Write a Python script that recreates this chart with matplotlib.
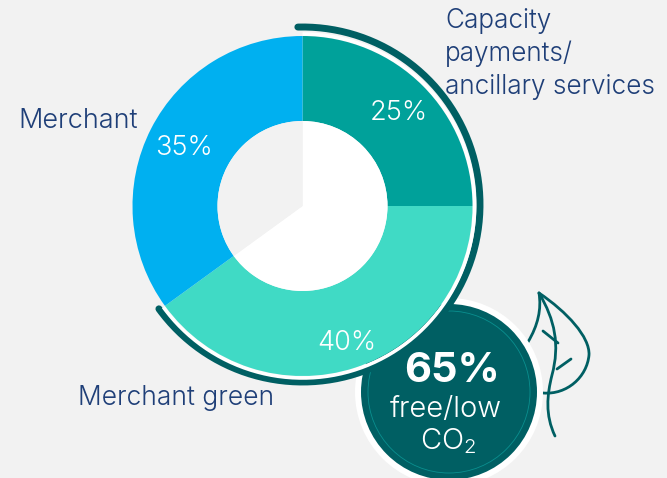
import numpy as np
import matplotlib
matplotlib.use('Agg')
import matplotlib.pyplot as plt
from matplotlib.patches import Circle, PathPatch
from matplotlib.path import Path

# Anteile am Portfolio
labels = ['Capacity\npayments/\nancillary services', 'Merchant green', 'Merchant']
shares = [25, 40, 35]
share_labels = ['25%', '40%', '35%']
low_co2_share = 65

W, H = 667, 478
BG = '#f2f2f2'
DARK = '#005f63'
NAVY = '#1f3f78'
colors = ['#00a19a', '#40dac5', '#00b0f0']

plt.rcParams['font.family'] = ['Inter', 'DejaVu Sans']
plt.rcParams['mathtext.default'] = 'regular'
LIGHT = 300


def py(y):
    # Pixel von oben -> Achse von unten
    return H - y


fig = plt.figure(figsize=(W / 100, H / 100), dpi=100, facecolor=BG)
ax = fig.add_axes([0, 0, 1, 1])

cx, cy = 302.5, py(206)
R, r = 170, 85

# Badge unten rechts
badge = (449, py(392))
ax.add_patch(Circle(badge, 94, fc='white', ec='none', zorder=3))
ax.add_patch(Circle(badge, 88, fc=DARK, ec='none', zorder=4))
ax.add_patch(Circle(badge, 81, fc='none', ec='#0a8f8f', lw=0.6, zorder=5))

# Ring
wedges, _ = ax.pie(shares, colors=colors, startangle=90, counterclock=False,
                   center=(cx, cy), radius=R, wedgeprops={'lw': 0})
for w in wedges:
    w.set_zorder(8)

# Innenloch: Merchant-Anteil bleibt Hintergrund
ax.add_patch(Circle((cx, cy), r, fc=BG, ec='none', zorder=8.5))
holes, _ = ax.pie(shares, colors=['white', 'white', BG], startangle=90, counterclock=False,
                  center=(cx, cy), radius=r, wedgeprops={'lw': 0})
for w in holes:
    w.set_zorder(9)

# Bogen um die CO2-armen Anteile
end_angle = 90 - low_co2_share / 100 * 360
theta = np.radians(np.linspace(90, end_angle, 200))
ax.plot(cx + (R + 2) * np.cos(theta), cy + (R + 2) * np.sin(theta), color='white', lw=2.6,
        solid_capstyle='butt', zorder=7)
theta2 = np.radians(np.linspace(91.5, end_angle, 200))
ax.plot(cx + 177.5 * np.cos(theta2), cy + 1.5 + 177.5 * np.sin(theta2), color=DARK, lw=5,
        solid_capstyle='round', zorder=6)


# Blatt
def leaf_line(verts, codes):
    pts = [(x, py(y)) for x, y in verts]
    ax.add_patch(PathPatch(Path(pts, codes), fc='none', ec=DARK, lw=2, capstyle='round',
                           joinstyle='round', zorder=2))


M, L, C3, C4 = Path.MOVETO, Path.LINETO, Path.CURVE3, Path.CURVE4
leaf_line([(539, 293), (567, 312), (590, 337), (589, 355), (587, 377), (567, 395), (543, 393)],
          [M, C4, C4, C4, C4, C4, C4])
leaf_line([(539, 293), (543, 317), (528, 342)], [M, C3, C3])
leaf_line([(539, 293), (555, 320), (560, 345), (552, 375), (547, 395), (545, 415), (555, 436)],
          [M, C4, C4, C4, C4, C4, C4])
leaf_line([(543, 331), (558, 343)], [M, L])
leaf_line([(571, 359), (557, 369)], [M, L])

# Beschriftung
ax.text(445, py(54), labels[0], color=NAVY, fontsize=18.8, fontweight=LIGHT, ha='left', va='center', linespacing=1.35)
ax.text(78, py(398), labels[1], color=NAVY, fontsize=19, fontweight=LIGHT, ha='left', va='center')
ax.text(18, py(121), labels[2], color=NAVY, fontsize=19.5, fontweight=LIGHT, ha='left', va='center')

ax.text(399, py(113), share_labels[0], color='white', fontsize=19.5, fontweight=LIGHT, ha='center', va='center', zorder=10)
ax.text(347, py(343), share_labels[1], color='white', fontsize=19.5, fontweight=LIGHT, ha='center', va='center', zorder=10)
ax.text(184, py(148), share_labels[2], color='white', fontsize=19.5, fontweight=LIGHT, ha='center', va='center', zorder=10)

ax.text(452, py(371), f'{low_co2_share}%', color='white', fontsize=30, fontweight='bold',
        ha='center', va='center', zorder=10)
ax.text(446, py(410), 'free/low', color='white', fontsize=21, fontweight=LIGHT, ha='center', va='center', zorder=10)
ax.text(448, py(441), 'CO$_2$', color='white', fontsize=21, fontweight=LIGHT, ha='center', va='center', zorder=10)

ax.set_xlim(0, W)
ax.set_ylim(0, H)
ax.set_aspect('equal')
ax.axis('off')

fig.savefig('out.png', dpi=100, facecolor=BG)
